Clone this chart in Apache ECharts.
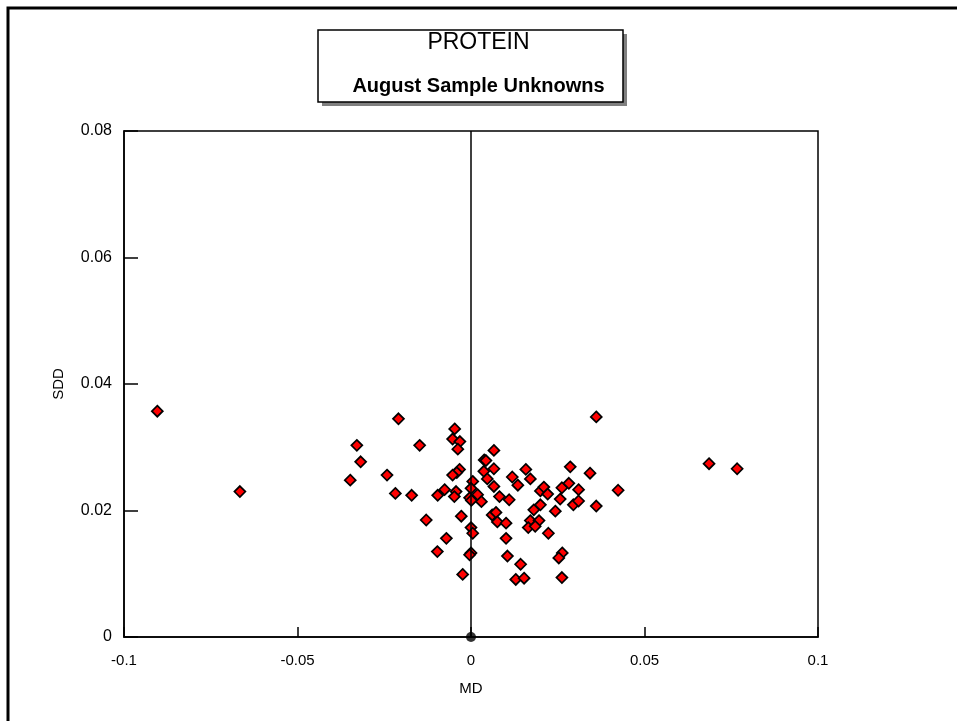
<!DOCTYPE html>
<html style="height: 100%">
    <head>
        <meta charset="utf-8">
    </head>
    <body style="height: 100%; margin: 0; background: #fff">
        <div id="container" style="width: 957px; height: 721px"></div>
        <script type="text/javascript" src="https://cdn.jsdelivr.net/npm/echarts@6/dist/echarts.min.js"></script>
        <script type="text/javascript">

// MD (x) and SDD (y) of each sample
var mdValues = [
    -0.0904, -0.0666, -0.0329, -0.0318, -0.0348, -0.0209, -0.0148, -0.0242, -0.0218, -0.0171,
    -0.0129, -0.0071, -0.0097, -0.0024, -0.0047, -0.0053, -0.0032, -0.0038, -0.0033, -0.0041,
    -0.0053, -0.0096, -0.0076, -0.0043, -0.0048, 0.0005, 0.0000, 0.0019, -0.0004, 0.0001,
    0.0030, -0.0028, 0.0000, 0.0005, 0.0000, -0.0004, 0.0066, 0.0038, 0.0043, 0.0037,
    0.0066, 0.0047, 0.0066, 0.0082, 0.0110, 0.0119, 0.0135, 0.0158, 0.0061, 0.0072,
    0.0076, 0.0101, 0.0101, 0.0105, 0.0143, 0.0129, 0.0153, 0.0171, 0.0200, 0.0210,
    0.0221, 0.0181, 0.0200, 0.0171, 0.0196, 0.0165, 0.0185, 0.0223, 0.0243, 0.0257,
    0.0262, 0.0282, 0.0286, 0.0310, 0.0295, 0.0310, 0.0343, 0.0361, 0.0361, 0.0424,
    0.0263, 0.0253, 0.0262, 0.0686, 0.0767
];
var sddValues = [
    0.0357, 0.0230, 0.0303, 0.0277, 0.0248, 0.0345, 0.0303, 0.0256, 0.0227, 0.0224,
    0.0185, 0.0156, 0.0135, 0.0099, 0.0329, 0.0313, 0.0309, 0.0297, 0.0265, 0.0260,
    0.0256, 0.0224, 0.0233, 0.0230, 0.0222, 0.0246, 0.0235, 0.0225, 0.0220, 0.0216,
    0.0214, 0.0191, 0.0173, 0.0164, 0.0133, 0.0130, 0.0295, 0.0280, 0.0279, 0.0262,
    0.0266, 0.0250, 0.0238, 0.0222, 0.0217, 0.0253, 0.0240, 0.0265, 0.0193, 0.0197,
    0.0182, 0.0180, 0.0156, 0.0128, 0.0115, 0.0091, 0.0093, 0.0250, 0.0231, 0.0237,
    0.0226, 0.0201, 0.0209, 0.0184, 0.0184, 0.0173, 0.0175, 0.0164, 0.0199, 0.0218,
    0.0236, 0.0243, 0.0269, 0.0233, 0.0209, 0.0215, 0.0259, 0.0348, 0.0207, 0.0232,
    0.0133, 0.0125, 0.0094, 0.0274, 0.0266
];
var originPoint = [[0, 0]];
var xTicks = [-0.1, -0.05, 0, 0.05, 0.1];
var yTicks = [0, 0.02, 0.04, 0.06, 0.08];

var FONT = "'Liberation Sans', Arial, sans-serif";

var dom = document.getElementById("container");
var myChart = echarts.init(dom, null, {renderer: 'canvas'});

var points = [];
for (var i = 0; i < mdValues.length; i++) {
    points.push([mdValues[i], sddValues[i]]);
}

var option = {
    backgroundColor: '#fff',
    animation: false,
    graphic: [
        // outer frame (only top and left edges fall inside the picture)
        {
            type: 'rect', z: 0,
            shape: {x: 8, y: 8, width: 1200, height: 1200},
            style: {fill: null, stroke: '#000', lineWidth: 3}
        },
        // title box with its shadow
        {
            type: 'rect', z: 10,
            shape: {x: 322, y: 34, width: 305, height: 72},
            style: {fill: '#808080'}
        },
        {
            type: 'rect', z: 11,
            shape: {x: 318, y: 30, width: 305, height: 72},
            style: {fill: '#fff', stroke: '#000', lineWidth: 1.5}
        },
        {
            type: 'text', z: 12, left: 'center', top: 31,
            style: {text: 'PROTEIN', font: 'normal 23px ' + FONT, fill: '#000', textAlign: 'center'}
        },
        {
            type: 'text', z: 12, left: 'center', top: 76,
            style: {text: 'August Sample Unknowns', font: 'bold 20px ' + FONT, fill: '#000', textAlign: 'center'}
        }
    ],
    grid: {
        left: 124, right: 139, top: 131, bottom: 84,
        show: true, borderColor: '#000', borderWidth: 1.5, backgroundColor: '#fff'
    },
    xAxis: {
        type: 'value',
        min: xTicks[0], max: xTicks[xTicks.length - 1], interval: 0.05,
        name: 'MD', nameLocation: 'middle', nameGap: 44,
        nameTextStyle: {fontFamily: FONT, fontSize: 15, color: '#000'},
        axisLine: {show: true, onZero: false, lineStyle: {color: '#000', width: 1.5}},
        axisTick: {show: true, inside: true, length: 10, lineStyle: {color: '#000', width: 1.5}},
        axisLabel: {fontFamily: FONT, fontSize: 15, color: '#000', margin: 16},
        splitLine: {show: false}
    },
    yAxis: {
        type: 'value',
        min: yTicks[0], max: yTicks[yTicks.length - 1], interval: 0.02,
        name: 'SDD', nameLocation: 'middle', nameGap: 58, nameRotate: 90,
        nameMoveOverlap: false,
        nameTextStyle: {fontFamily: FONT, fontSize: 15, color: '#000'},
        axisLine: {show: true, onZero: false, lineStyle: {color: '#000', width: 1.5}},
        axisTick: {show: true, inside: true, length: 14, lineStyle: {color: '#000', width: 1.5}},
        axisLabel: {fontFamily: FONT, fontSize: 16, color: '#000', margin: 12},
        splitLine: {show: false}
    },
    series: [
        {
            type: 'scatter',
            data: points,
            symbol: 'diamond',
            symbolSize: 11,
            clip: false,
            itemStyle: {color: '#ff0000', borderColor: '#000', borderWidth: 1.7, opacity: 1},
            markLine: {
                silent: true,
                symbol: ['none', 'none'],
                label: {show: false},
                lineStyle: {color: '#000', width: 1.5, type: 'solid'},
                data: [{xAxis: 0}]
            },
            z: 3
        },
        {
            type: 'scatter',
            data: originPoint,
            symbol: 'circle',
            symbolSize: 10,
            clip: false,
            itemStyle: {color: '#000'},
            z: 4
        }
    ]
};
myChart.setOption(option);

        </script>
    </body>
</html>
